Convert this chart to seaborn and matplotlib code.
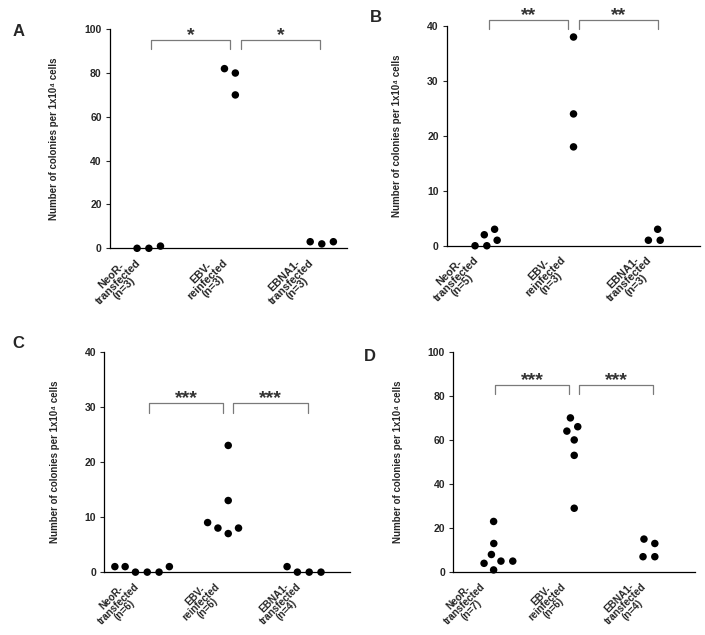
import matplotlib
matplotlib.use("Agg")
import matplotlib.pyplot as plt
from matplotlib.transforms import ScaledTranslation
import pandas as pd
import seaborn as sns

sns.set_style("ticks")
plt.rcParams["font.family"] = ["Liberation Sans", "DejaVu Sans"]
plt.rcParams["font.weight"] = "bold"

groups = ["NeoR", "EBV", "EBNA1"]

# colonies per 1x10^4 cells
a_neor = [0, 1, 0]
a_ebv = [80, 82, 70]
a_ebna1 = [2, 3, 3]

b_neor = [1, 3, 0, 2, 0]
b_ebv = [38, 24, 18]
b_ebna1 = [1, 3, 1]

c_neor = [0, 1, 0, 1, 0, 1]
c_ebv = [9, 7, 23, 8, 13, 8]
c_ebna1 = [0, 1, 0, 0]

d_neor = [8, 4, 23, 5, 1, 13, 5]
d_ebv = [64, 70, 60, 53, 29, 66]
d_ebna1 = [7, 15, 13, 7]

# significance marks and the height of their brackets
stars = ["*", "**", "***", "***"]
bracket_top = [95, 41.1, 30.7, 85]
bracket_low = [91, 39.5, 28.9, 81]

y_max = [100, 40, 40, 100]
y_step = [20, 10, 10, 20]


def tick_labels(neor, ebv, ebna1):
    return [f"NeoR-\ntransfected\n(n={len(neor)})",
            f"EBV-\nreinfected\n(n={len(ebv)})",
            f"EBNA1-\ntransfected\n(n={len(ebna1)})"]


panels = [
    ("A", a_neor, a_ebv, a_ebna1),
    ("B", b_neor, b_ebv, b_ebna1),
    ("C", c_neor, c_ebv, c_ebna1),
    ("D", d_neor, d_ebv, d_ebna1),
]

# axes rectangles, x ranges and tick label sizes
rects = [[0.156, 0.609, 0.336, 0.345],
         [0.634, 0.613, 0.359, 0.346],
         [0.148, 0.099, 0.348, 0.347],
         [0.643, 0.099, 0.343, 0.347]]
xlims = [(-0.45, 2.29), (-0.46, 2.46), (-0.53, 2.5), (-0.5, 2.5)]
xlab_size = [7.8, 7.8, 7.2, 7.2]
letter_pos = [(19, 31), (376, 17), (18, 344), (370, 356)]

fig = plt.figure(figsize=(7.05, 6.35), dpi=100)
shift = ScaledTranslation(5 / 72, 0, fig.dpi_scale_trans)

for i, (letter, neor, ebv, ebna1) in enumerate(panels):
    ax = fig.add_axes(rects[i])
    df = pd.DataFrame({
        "group": ["NeoR"] * len(neor) + ["EBV"] * len(ebv) + ["EBNA1"] * len(ebna1),
        "count": neor + ebv + ebna1,
    })
    sns.swarmplot(data=df, x="group", y="count", order=groups, color="black",
                  size=5.4, linewidth=2.7, edgecolor="none", clip_on=False, ax=ax)

    ax.set_xlim(*xlims[i])
    ax.set_ylim(0, y_max[i])
    ax.set_yticks(range(0, y_max[i] + 1, y_step[i]))
    ax.set_xticks(range(3))
    ax.set_xticklabels(tick_labels(neor, ebv, ebna1), rotation=45, ha="right",
                       multialignment="center", linespacing=0.88,
                       fontsize=xlab_size[i], fontweight="bold")
    for lab in ax.get_xticklabels():
        lab.set_transform(lab.get_transform() + shift)
    ax.tick_params(axis="y", labelsize=7.5, length=3, width=0.8, pad=3)
    ax.tick_params(axis="x", length=0, pad=2)
    for lab in ax.get_yticklabels():
        lab.set_fontweight("bold")
    ax.set_xlabel("")
    ax.set_ylabel("Number of colonies per 1x10⁴ cells", fontsize=7,
                  fontweight="bold", labelpad=18)
    sns.despine(ax=ax)
    for side in ["left", "bottom"]:
        ax.spines[side].set_linewidth(0.9)
        ax.spines[side].set_color("black")

    # significance brackets
    for x0, x1 in [(0.02, 0.94), (1.06, 1.98)]:
        ax.plot([x0, x0, x1, x1],
                [bracket_low[i], bracket_top[i], bracket_top[i], bracket_low[i]],
                color="#7a7a7a", lw=0.9, clip_on=False)
        ax.annotate(stars[i], ((x0 + x1) / 2, bracket_top[i]), xytext=(0, 3),
                    textcoords="offset points", ha="center", va="center",
                    fontsize=14, color="#333333", annotation_clip=False)

    fig.text(letter_pos[i][0] / 705, 1 - letter_pos[i][1] / 635, letter,
             fontsize=12, fontweight="bold", ha="center", va="center")

fig.savefig("out.png", dpi=100)
